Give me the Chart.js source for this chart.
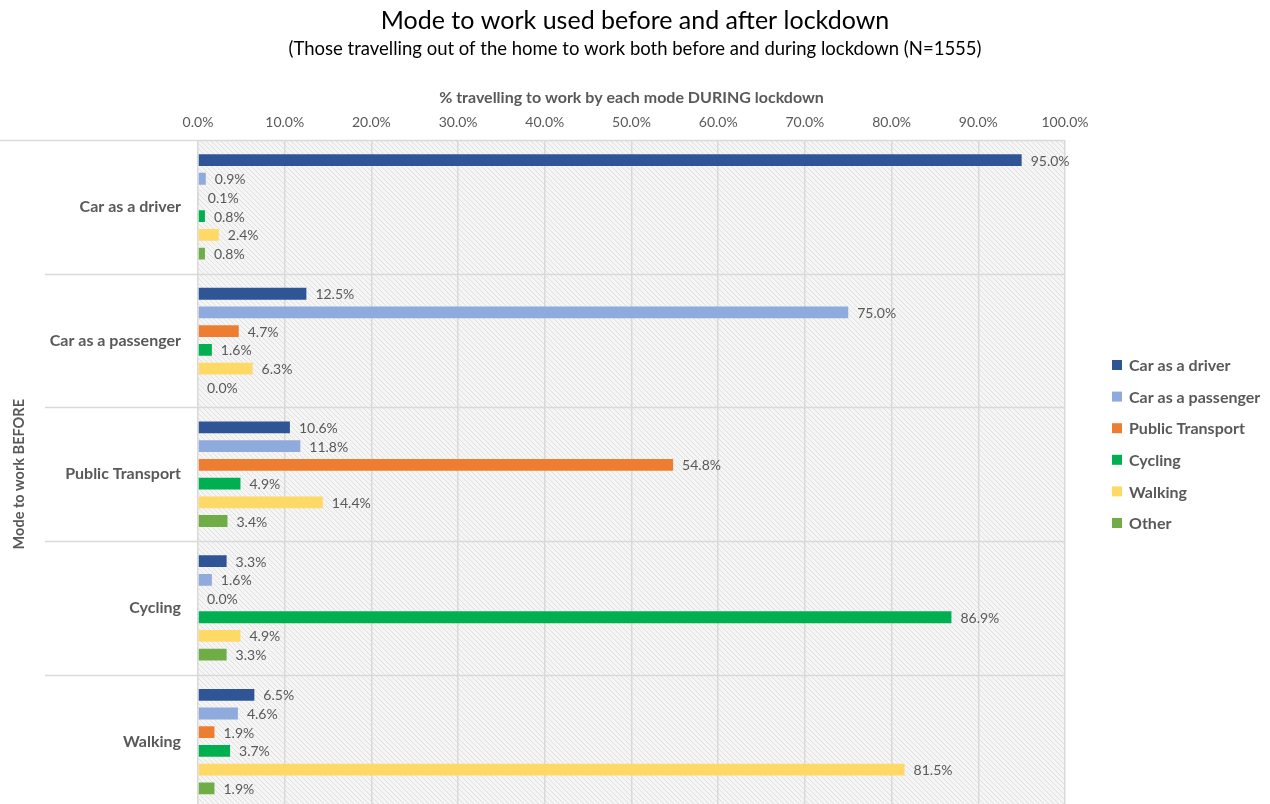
<!DOCTYPE html>
<html lang="en">
<head>
<meta charset="UTF-8">
<title>Mode to work used before and after lockdown</title>
<script src="https://cdn.jsdelivr.net/npm/chart.js"></script>
<style>
    html, body { margin: 0; padding: 0; background: #fff; overflow: hidden; }
    #wrap { width: 1270px; height: 827px; }
</style>
</head>
<body>
<div id="wrap"><canvas id="modeChart" width="1270" height="827"></canvas></div>
<script>
// mode used before lockdown (rows)
const categories = ['Car as a driver', 'Car as a passenger', 'Public Transport', 'Cycling', 'Walking'];

// % using each mode during lockdown, one array per mode
const seriesNames = ['Car as a driver', 'Car as a passenger', 'Public Transport', 'Cycling', 'Walking', 'Other'];
const carDriver       = [95.0, 12.5, 10.6,  3.3,  6.5];
const carPassenger    = [ 0.9, 75.0, 11.8,  1.6,  4.6];
const publicTransport = [ 0.1,  4.7, 54.8,  0.0,  1.9];
const cycling         = [ 0.8,  1.6,  4.9, 86.9,  3.7];
const walking         = [ 2.4,  6.3, 14.4,  4.9, 81.5];
const other           = [ 0.8,  0.0,  3.4,  3.3,  1.9];
const seriesColors = ['#2f5597', '#8faadc', '#ed7d31', '#00b050', '#ffd966', '#70ad47'];

const xMin = 0, xMax = 100, xStep = 10;

const titleText = 'Mode to work used before and after lockdown';
const subtitleText = '(Those travelling out of the home to work both before and during lockdown (N=1555)';

const GREY = '#595959';
const FONT = 'Lato, "Open Sans", sans-serif';

// light diagonal hatch used as plot-area fill
function makeHatch() {
    const c = document.createElement('canvas');
    c.width = 5; c.height = 5;
    const g = c.getContext('2d');
    g.fillStyle = '#f5f5f5';
    g.fillRect(0, 0, 5, 5);
    g.strokeStyle = '#e0e0e0';
    g.lineWidth = 1;
    g.beginPath();
    for (let k = -5; k <= 5; k += 5) {
        g.moveTo(k, 0);
        g.lineTo(k + 5, 5);
    }
    g.stroke();
    return g.createPattern(c, 'repeat');
}

// heading centred on the whole canvas
const heading = {
    id: 'heading',
    afterDraw(chart) {
        const ctx = chart.ctx;
        const cx = chart.width / 2;
        ctx.save();
        ctx.fillStyle = '#000';
        ctx.textAlign = 'center';
        ctx.textBaseline = 'middle';
        ctx.font = '25px ' + FONT;
        ctx.fillText(titleText, cx, 21);
        ctx.font = '18.5px ' + FONT;
        ctx.fillText(subtitleText, cx, 49);
        ctx.restore();
    }
};

const plotBackground = {
    id: 'plotBackground',
    beforeDraw(chart) {
        const { ctx, chartArea: a } = chart;
        ctx.save();
        ctx.fillStyle = makeHatch();
        ctx.fillRect(a.left, a.top, a.right - a.left, chart.height - a.top);
        ctx.restore();
    }
};

// horizontal separators between row groups, running into the label area
const groupLines = {
    id: 'groupLines',
    beforeDatasetsDraw(chart) {
        const { ctx, chartArea: a } = chart;
        const y = chart.scales.y;
        const n = categories.length;
        ctx.save();
        ctx.strokeStyle = '#d9d9d9';
        ctx.lineWidth = 1.5;
        for (let i = 0; i < n; i++) {
            const yy = i === 0 ? a.top : (y.getPixelForValue(i - 1) + y.getPixelForValue(i)) / 2;
            ctx.beginPath();
            ctx.moveTo(i === 0 ? 0 : 45, Math.round(yy) + 0.5);
            ctx.lineTo(a.right, Math.round(yy) + 0.5);
            ctx.stroke();
        }
        ctx.restore();
    }
};

// value labels at the end of each bar
const barValues = {
    id: 'barValues',
    afterDatasetsDraw(chart) {
        const ctx = chart.ctx;
        ctx.save();
        ctx.font = '14px ' + FONT;
        ctx.fillStyle = GREY;
        ctx.textAlign = 'left';
        ctx.textBaseline = 'middle';
        chart.data.datasets.forEach((ds, di) => {
            chart.getDatasetMeta(di).data.forEach((bar, i) => {
                ctx.fillText(ds.data[i].toFixed(1) + '%', bar.x + 9, bar.y + 1);
            });
        });
        ctx.restore();
    }
};

// legend on the right
const sideLegend = {
    id: 'sideLegend',
    afterDraw(chart) {
        const ctx = chart.ctx;
        ctx.save();
        ctx.font = 'bold 16px ' + FONT;
        ctx.textBaseline = 'middle';
        chart.data.datasets.forEach((ds, i) => {
            const y = 365 + i * 31.6;
            ctx.fillStyle = ds.backgroundColor;
            ctx.fillRect(1112, y - 5, 10, 10);
            ctx.fillStyle = GREY;
            ctx.fillText(ds.label, 1129, y + 1);
        });
        ctx.restore();
    }
};

const seriesData = [carDriver, carPassenger, publicTransport, cycling, walking, other];

const ctx = document.getElementById('modeChart').getContext('2d');
const modeChart = new Chart(ctx, {
    type: 'bar',
    data: {
        labels: categories,
        datasets: seriesNames.map((name, i) => ({
            label: name,
            data: seriesData[i],
            backgroundColor: seriesColors[i],
            categoryPercentage: 0.84,
            barPercentage: 0.63
        }))
    },
    options: {
        indexAxis: 'y',
        responsive: false,
        animation: false,
        layout: { padding: { left: 0, right: 205, top: 57, bottom: 4 } },
        plugins: {
            legend: { display: false },
            tooltip: { enabled: false }
        },
        scales: {
            x: {
                position: 'top',
                min: xMin,
                max: xMax,
                ticks: {
                    stepSize: xStep,
                    color: GREY,
                    font: { family: FONT, size: 14 },
                    padding: 9,
                    callback: v => v.toFixed(1) + '%'
                },
                grid: { color: '#d9d9d9', lineWidth: 1.5, drawTicks: false },
                border: { display: false },
                title: {
                    display: true,
                    text: '% travelling to work by each mode DURING lockdown',
                    color: GREY,
                    font: { family: FONT, size: 16, weight: 'bold' },
                    padding: { top: 31, bottom: 0 }
                },
                afterFit(scale) { scale.height = 83; }
            },
            y: {
                grid: { display: false },
                border: { display: false },
                ticks: {
                    color: GREY,
                    font: { family: FONT, size: 16, weight: 'bold' },
                    padding: 9
                },
                title: {
                    display: true,
                    text: 'Mode to work BEFORE',
                    color: GREY,
                    font: { family: FONT, size: 14.5, weight: 'bold' },
                    padding: { top: 11, bottom: 0 }
                },
                afterFit(scale) { scale.width = 198; }
            }
        }
    },
    plugins: [plotBackground, groupLines, barValues, sideLegend, heading]
});
</script>
</body>
</html>
